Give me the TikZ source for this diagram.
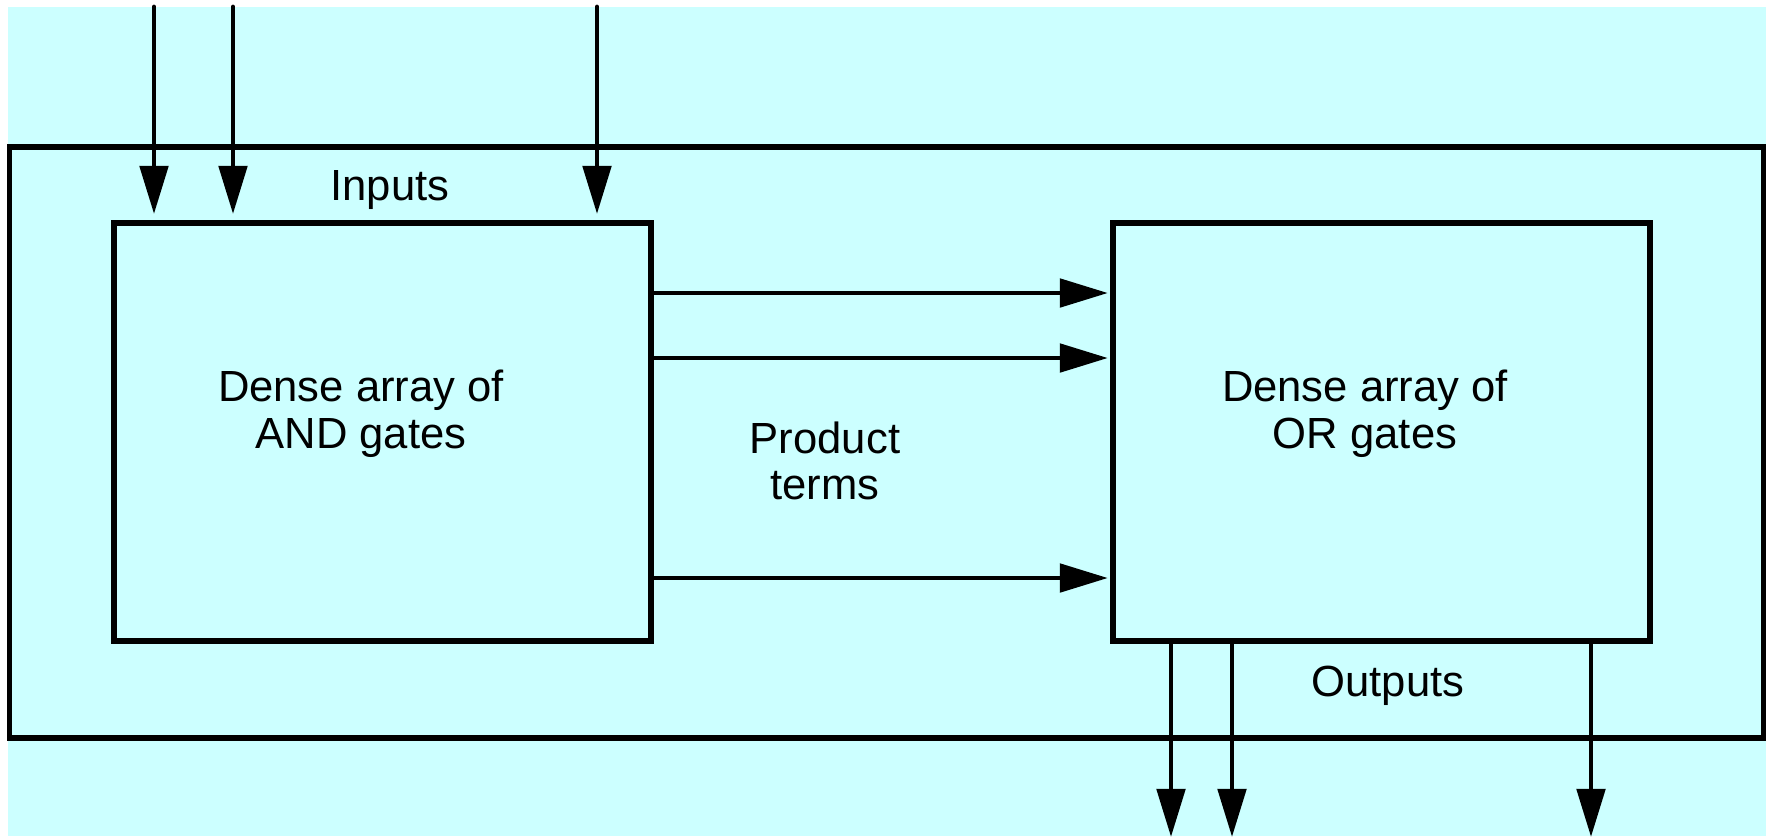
\documentclass[tikz,border=0pt]{standalone}
\usepackage{fontspec}
\setmainfont{Liberation Sans}
\usetikzlibrary{arrows.meta,positioning,calc}
\definecolor{Pale}{HTML}{CCFFFF}

\begin{document}
\begin{tikzpicture}[x=0.01cm,y=-0.01cm,
  box/.style={draw,line width=1.6pt,inner sep=0pt},
  wire/.style={line width=1.4pt,line cap=round,-{Triangle[length=13.7pt,width=8pt]}},
  lbl/.style={font=\fontsize{12.4}{13.3}\selectfont,align=center,inner sep=0pt}]
\useasboundingbox (0,0) rectangle (1766,838);
\fill[Pale] (8,7) rectangle (1766,836);
% frame and the two arrays
\node[box,minimum width=17.53cm,minimum height=5.91cm] (pla) at (886.5,442.5) {};
\node[box,minimum width=5.37cm,minimum height=4.18cm] (and) at (382.5,432) {};
\node[box,minimum width=5.37cm,minimum height=4.18cm] (or) at (1381.5,432) {};
\node[lbl] (andtxt) at (361,414) {Dense array of\\AND gates};
\node[lbl] (ortxt) at (1365,414) {Dense array of\\OR gates};
\node[lbl] (ptxt) at (825,461) {Product\\terms};
\node[lbl] (intxt) at (390,190) {Inputs};
\node[lbl] (outtxt) at (1388,686) {Outputs};
% inputs
\foreach \x/\n in {154/1,233/2,597/3} {\coordinate (in\n) at (\x,7); \coordinate (in\n end) at (\x,214); \draw[wire] (in\n) -- (in\n end);}
% product terms
\foreach \y/\n in {293/1,358/2,578/3} {\coordinate (pt\n) at (651,\y); \draw[wire,shorten >=0.6pt] (pt\n) -- (pt\n -| or.west);}
% outputs
\foreach \x/\n in {1171/1,1232/2,1591/3} {\coordinate (out\n) at (\x,641); \coordinate (out\n end) at (\x,837); \draw[wire] (out\n) -- (out\n end);}
\end{tikzpicture}
\end{document}
